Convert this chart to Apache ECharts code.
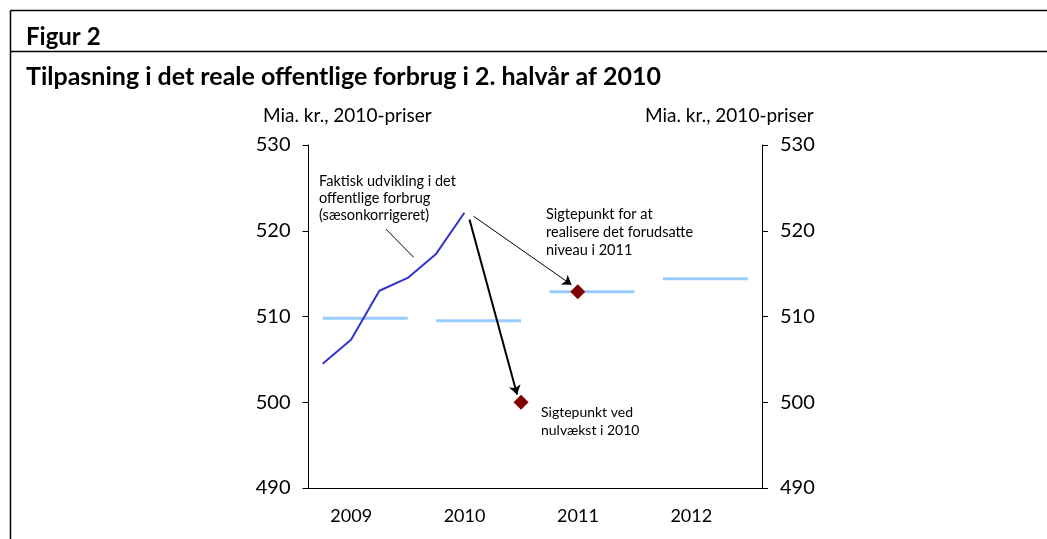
<!DOCTYPE html>
<html>
<head>
<meta charset="utf-8">
<script src="https://cdn.jsdelivr.net/npm/echarts@6/dist/echarts.min.js"></script>
<style>
  html, body { margin: 0; padding: 0; background: #fff; }
  #chart { width: 1047px; height: 539px; }
</style>
</head>
<body>
<div id="chart"></div>
<script>
// data
var years = ['2009', '2010', '2011', '2012'];
var actualQuarters = [0, 1, 2, 3, 4, 5];          // 2009K1 .. 2010K2
var actualValues = [504.5, 507.3, 513.0, 514.5, 517.3, 522.1];
var yearLevels = [509.8, 509.5, 512.9, 514.4];    // gennemsnit pr. år
var targetQuarters = [7, 9];                       // 2010K4, 2011K2
var targetValues = [500.0, 512.9];
var yTicks = [490, 500, 510, 520, 530];

var font = 'Lato';
var myChart = echarts.init(document.getElementById('chart'));

// lysblaa niveaulinjer, en serie pr. aar
var levelSeries = yearLevels.map(function (v, i) {
    return {
        type: 'line',
        xAxisIndex: 1,
        symbol: 'none',
        lineStyle: { color: '#99CCFF', width: 3 },
        data: [[i * 4 + 0.5, v], [i * 4 + 3.5, v]],
        z: 2
    };
});

var option = {
    animation: false,
    grid: { left: 308.5, right: 285, top: 145, bottom: 51 },
    xAxis: [
        {
            type: 'category',
            data: years,
            boundaryGap: true,
            axisLine: { lineStyle: { color: '#000', width: 1 } },
            axisTick: { length: 6, lineStyle: { color: '#000' } },
            axisLabel: { fontFamily: font, fontSize: 18, color: '#000', margin: 19, padding: [0, 28, 0, 0] }
        },
        {
            type: 'value',
            min: 0,
            max: 16,
            show: false
        }
    ],
    yAxis: [
        {
            type: 'value',
            min: yTicks[0],
            max: yTicks[yTicks.length - 1],
            interval: 10,
            axisLine: { show: true, lineStyle: { color: '#000', width: 1 } },
            axisTick: { show: true, length: 6, lineStyle: { color: '#000' } },
            axisLabel: { fontFamily: font, fontSize: 20, color: '#000', margin: 18 },
            splitLine: { show: false }
        },
        {
            type: 'value',
            position: 'right',
            min: yTicks[0],
            max: yTicks[yTicks.length - 1],
            interval: 10,
            axisLine: { show: true, lineStyle: { color: '#000', width: 1 } },
            axisTick: { show: true, length: 6, lineStyle: { color: '#000' } },
            axisLabel: { fontFamily: font, fontSize: 20, color: '#000', margin: 18 },
            splitLine: { show: false }
        }
    ],
    series: levelSeries.concat([
        {
            type: 'line',
            xAxisIndex: 1,
            symbol: 'none',
            lineStyle: { color: '#3333CC', width: 2 },
            data: actualQuarters.map(function (q, i) { return [q + 0.5, actualValues[i]]; }),
            z: 3
        },
        {
            type: 'scatter',
            xAxisIndex: 1,
            symbol: 'diamond',
            symbolSize: 15,
            itemStyle: { color: '#800000', opacity: 1 },
            data: targetQuarters.map(function (q, i) { return [q + 0.5, targetValues[i]]; }),
            z: 5
        },
        {
            // pile og henvisningslinje
            type: 'line',
            xAxisIndex: 1,
            data: [],
            markLine: {
                silent: true,
                symbol: ['none', 'arrow'],
                symbolSize: 9,
                label: { show: false },
                data: [
                    [{ coord: [5.82, 521.7], lineStyle: { color: '#000', width: 1, type: 'solid' } }, { coord: [9.28, 513.7] }],
                    [{ coord: [5.68, 521.3], lineStyle: { color: '#000', width: 2, type: 'solid' } }, { coord: [7.36, 500.9] }],
                    [{ coord: [2.73, 520.2], symbol: 'none', lineStyle: { color: '#000', width: 1, type: 'solid' } }, { coord: [3.71, 516.9], symbol: 'none' }]
                ]
            },
            z: 4
        }
    ]),
    graphic: [
        { type: 'line', shape: { x1: 10.5, y1: 10.5, x2: 1047, y2: 10.5 }, style: { stroke: '#000', lineWidth: 1.5 } },
        { type: 'line', shape: { x1: 10.5, y1: 10.5, x2: 10.5, y2: 539 }, style: { stroke: '#000', lineWidth: 1.5 } },
        { type: 'line', shape: { x1: 10.5, y1: 51.5, x2: 1047, y2: 51.5 }, style: { stroke: '#000', lineWidth: 1.5 } },
        { type: 'text', left: 26, top: 25, style: { text: 'Figur 2', font: 'bold 24px ' + font, fill: '#000' } },
        { type: 'text', left: 26, top: 64, style: { text: 'Tilpasning i det reale offentlige forbrug i 2. halvår af 2010', font: 'bold 25px ' + font, fill: '#000' } },
        { type: 'text', left: 263, top: 106, style: { text: 'Mia. kr., 2010-priser', font: '19px ' + font, fill: '#000' } },
        { type: 'text', left: 645, top: 106, style: { text: 'Mia. kr., 2010-priser', font: '19px ' + font, fill: '#000' } },
        { type: 'text', left: 319, top: 173, style: { text: 'Faktisk udvikling i det\noffentlige forbrug\n(sæsonkorrigeret)', font: '14.5px ' + font, lineHeight: 17, fill: '#000' } },
        { type: 'text', left: 546, top: 205, style: { text: 'Sigtepunkt for at\nrealisere det forudsatte\nniveau i 2011', font: '14.5px ' + font, lineHeight: 18, fill: '#000' } },
        { type: 'text', left: 541, top: 403, style: { text: 'Sigtepunkt ved\nnulvækst i 2010', font: '14px ' + font, lineHeight: 18, fill: '#000' } }
    ]
};

myChart.setOption(option);
</script>
</body>
</html>
